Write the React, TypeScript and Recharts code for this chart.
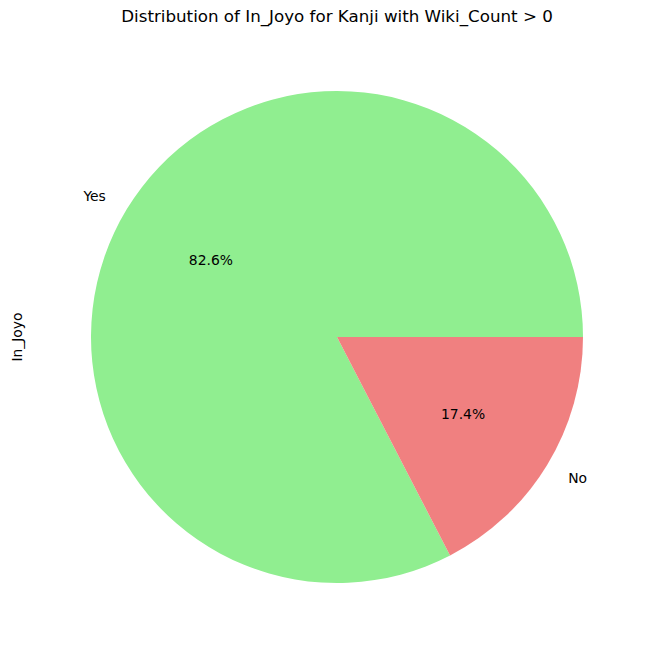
import { Cell, Pie, PieChart } from "recharts";

const categories = ["Yes", "No"];
const shares = [82.6, 17.4];
const sliceColors = ["#90ee90", "#f08080"];

const data = categories.map((name, i) => ({ name, value: shares[i] }));

const RAD = Math.PI / 180;
const FONT = "DejaVu Sans, sans-serif";

function renderLabel(props: any) {
  const { cx, cy, midAngle, outerRadius, name, value } = props;
  const cos = Math.cos(-midAngle * RAD);
  const sin = Math.sin(-midAngle * RAD);
  const lx = cx + outerRadius * 1.1 * cos;
  const ly = cy + outerRadius * 1.1 * sin;
  const px = cx + outerRadius * 0.6 * cos;
  const py = cy + outerRadius * 0.6 * sin;
  return (
    <g>
      <text x={lx} y={ly} textAnchor={cos < 0 ? "end" : "start"} dominantBaseline="central" fontSize={13.9} fontFamily={FONT} fill="#000">
        {name}
      </text>
      <text x={px} y={py} textAnchor="middle" dominantBaseline="central" fontSize={13.9} fontFamily={FONT} fill="#000">
        {value.toFixed(1)}%
      </text>
    </g>
  );
}

export default function App() {
  return (
    <div style={{ position: "absolute", left: 0, top: 0, width: 655, height: 656, background: "#fff" }}>
      <PieChart width={655} height={656} margin={{ top: 0, right: 0, bottom: 0, left: 0 }}>
        <text x={337} y={16} textAnchor="middle" dominantBaseline="central" fontSize={16.7} fontFamily={FONT} fill="#000">
          Distribution of In_Joyo for Kanji with Wiki_Count &gt; 0
        </text>
        <text x={17} y={337} textAnchor="middle" dominantBaseline="central" fontSize={13.9} fontFamily={FONT} fill="#000" transform="rotate(-90 17 337)">
          In_Joyo
        </text>
        <Pie
          data={data}
          dataKey="value"
          nameKey="name"
          cx={337}
          cy={337}
          outerRadius={246}
          startAngle={0}
          endAngle={360}
          stroke="none"
          labelLine={false}
          label={renderLabel}
          isAnimationActive={false}
        >
          {data.map((d, i) => (
            <Cell key={d.name} fill={sliceColors[i]} />
          ))}
        </Pie>
      </PieChart>
    </div>
  );
}
